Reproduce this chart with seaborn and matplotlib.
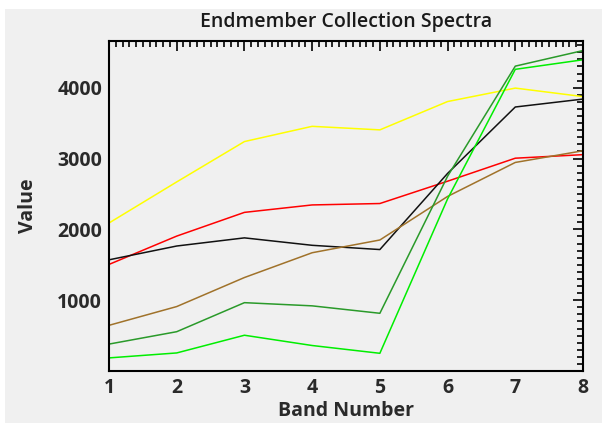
import pandas as pd
import matplotlib.pyplot as plt
import seaborn as sns
from matplotlib.patches import Rectangle
from matplotlib.ticker import MultipleLocator

sns.set_style("white")
plt.rcParams['font.family'] = ['Open Sans', 'DejaVu Sans']

bands = [1, 2, 3, 4, 5, 6, 7, 8]
yellow = [2090, 2670, 3240, 3455, 3405, 3805, 3995, 3875]
red = [1505, 1905, 2240, 2345, 2365, 2680, 3005, 3055]
black = [1570, 1765, 1880, 1775, 1715, 2790, 3728, 3840]
brown = [645, 910, 1320, 1670, 1850, 2465, 2945, 3110]
dark_green = [380, 555, 965, 920, 815, 2750, 4305, 4525]
light_green = [185, 255, 505, 360, 250, 2430, 4260, 4395]

series = {'yellow': yellow, 'red': red, 'black': black, 'brown': brown,
          'dark green': dark_green, 'light green': light_green}
colors = {'yellow': '#ffff00', 'red': '#ff0000', 'black': '#111111', 'brown': '#a0722a',
          'dark green': '#2a9a2a', 'light green': '#00ee00'}

df = pd.concat([pd.DataFrame({'band': bands, 'value': v, 'em': k}) for k, v in series.items()])

fig = plt.figure(figsize=(6.02, 4.23), dpi=100, facecolor='white')
fig.patches.append(Rectangle((5/602, 0), 1, 1 - 9/423, transform=fig.transFigure,
                             facecolor='#f0f0f0', edgecolor='none', zorder=-10))
ax = fig.add_axes([109/602, 52/423, 474/602, 330/423])
ax.set_facecolor('#f0f0f0')

sns.lineplot(data=df, x='band', y='value', hue='em', palette=colors, linewidth=1.1,
             legend=False, ax=ax)

ax.set_xlim(1, 8)
ax.set_ylim(0, 4660)
ax.xaxis.set_major_locator(MultipleLocator(1))
ax.xaxis.set_minor_locator(MultipleLocator(0.1))
ax.yaxis.set_major_locator(MultipleLocator(1000))
ax.yaxis.set_minor_locator(MultipleLocator(100))
ax.set_yticks([1000, 2000, 3000, 4000])
ax.tick_params(which='both', direction='in', top=True, right=True, color='black', width=1.2)
ax.tick_params(which='major', length=7, labelsize=14, pad=5)
ax.tick_params(which='minor', length=4)
for lab in ax.get_xticklabels() + ax.get_yticklabels():
    lab.set_fontweight('bold')
    lab.set_color('#2a2a2a')
for s in ax.spines.values():
    s.set_color('black')
    s.set_linewidth(1.5)

ax.set_title('Endmember Collection Spectra', fontsize=14, fontweight='semibold', color='#1a1a1a', pad=10)
ax.set_xlabel('Band Number', fontsize=14, fontweight='bold', color='#2a2a2a', labelpad=2)
ax.set_ylabel('Value', fontsize=14, fontweight='bold', color='#2a2a2a', labelpad=14)

plt.savefig('out.png', dpi=100, facecolor=fig.get_facecolor())
